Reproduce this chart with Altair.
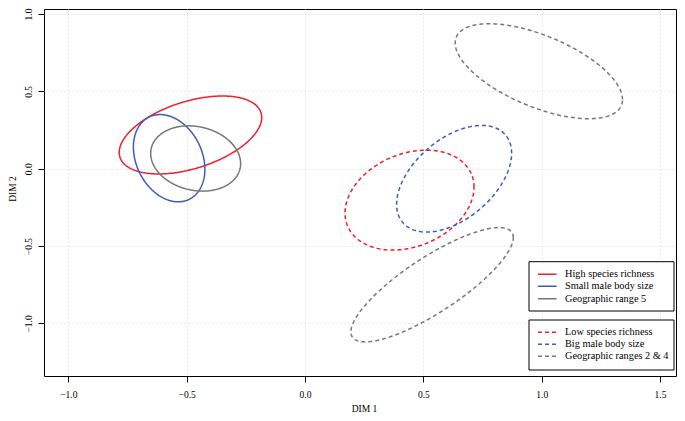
import numpy as np
import pandas as pd
import altair as alt

# Ellipse parameters: centre x, centre y, half-width (x), half-height (y), correlation
groups = ["High species richness", "Small male body size", "Geographic range 5",
          "Low species richness", "Big male body size", "Geographic range 2", "Geographic range 4"]
cat = ["richness", "body", "range", "richness", "body", "range", "range"]
style = ["solid", "solid", "solid", "dashed", "dashed", "dashed", "dashed"]
cx = [-0.484, -0.574, -0.462, 0.4415, 0.630, 0.988, 0.537]
cy = [0.218, 0.068, 0.066, -0.203, -0.065, 0.630, -0.750]
hw = [0.301, 0.151, 0.190, 0.2725, 0.243, 0.3535, 0.343]
hh = [0.252, 0.282, 0.211, 0.323, 0.3445, 0.307, 0.3695]
rho = [0.448, -0.253, -0.155, 0.259, 0.478, -0.595, 0.824]

x_ticks = [-1.0, -0.5, 0.0, 0.5, 1.0, 1.5]
y_ticks = [-1.0, -0.5, 0.0, 0.5, 1.0]

legend1 = ["High species richness", "Small male body size", "Geographic range 5"]
legend2 = ["Low species richness", "Big male body size", "Geographic ranges 2 & 4"]
legend_cat = ["richness", "body", "range"]

colors = {"richness": "#EE2029", "body": "#3F5BB8", "range": "#777777"}
SERIF = "Liberation Serif, Times New Roman, serif"

rows = []
t = np.linspace(0, 2 * np.pi, 241)
for k in range(len(groups)):
    xs = cx[k] + hw[k] * np.cos(t)
    ys = cy[k] + hh[k] * (rho[k] * np.cos(t) + np.sqrt(1 - rho[k] ** 2) * np.sin(t))
    for i, (a, b) in enumerate(zip(xs, ys)):
        rows.append({"id": groups[k], "cat": cat[k], "style": style[k], "i": i, "x": a, "y": b})
df = pd.DataFrame(rows)

W, H = 632, 367
xdom = [-1.1027, 1.5674]
ydom = [-1.340, 1.0323]

axis_common = dict(labelFont=SERIF, labelFontSize=9.5, labelColor="black",
                   titleFont=SERIF, titleFontSize=9.5, titleColor="black", titleFontWeight="normal",
                   tickColor="black", tickSize=6, domain=False,
                   grid=True, gridColor="#d4d4d4", gridDash=[1, 3], gridWidth=1, format=".1f")

ell = alt.Chart(df).mark_line(strokeWidth=1.5).encode(
    x=alt.X("x:Q", scale=alt.Scale(domain=xdom, nice=False, zero=False),
            axis=alt.Axis(values=x_ticks, title="DIM 1", labelPadding=7,
                          titleX=320, titleY=35, titleBaseline="alphabetic", titleAlign="center",
                          **axis_common)),
    y=alt.Y("y:Q", scale=alt.Scale(domain=ydom, nice=False, zero=False),
            axis=alt.Axis(values=y_ticks, title="DIM 2", labelAngle=270, labelAlign="center",
                          labelBaseline="bottom", labelPadding=4.5,
                          titleAngle=270, titleX=-29, titleY=179.5, titleAlign="center",
                          titleBaseline="alphabetic", **axis_common)),
    color=alt.Color("cat:N", scale=alt.Scale(domain=list(colors.keys()), range=list(colors.values())), legend=None),
    strokeDash=alt.StrokeDash("style:N", scale=alt.Scale(domain=["solid", "dashed"], range=[[1, 0], [4, 3]]), legend=None),
    detail="id:N",
    order="i:Q",
)

one = alt.Data(values=[{"a": 1}])
layers = [ell]
boxes = [(252.7, 302.0, legend1, [265.3, 277.3, 289.7], [1, 0]),
         (311.0, 361.0, legend2, [323.3, 335.3, 347.3], [4, 3])]
for (y0, y1, labels, ys, dash) in boxes:
    layers.append(alt.Chart(one).mark_rect(fill="white", stroke="black", strokeWidth=1).encode(
        x=alt.value(485.0), x2=alt.value(630.0), y=alt.value(y0), y2=alt.value(y1)))
    for lab, c, yy in zip(labels, legend_cat, ys):
        layers.append(alt.Chart(one).mark_rule(color=colors[c], strokeWidth=1.5, strokeDash=dash).encode(
            x=alt.value(494.0), x2=alt.value(512.6), y=alt.value(yy)))
        layers.append(alt.Chart(one).mark_text(font=SERIF, fontSize=10.3, color="black", align="left",
                                               baseline="middle").encode(
            x=alt.value(521.0), y=alt.value(yy), text=alt.value(lab)))

chart = alt.layer(*layers).properties(
    width=W, height=H,
    autosize=alt.AutoSizeParams(type="none"),
    padding={"left": 36, "top": 1, "right": 1, "bottom": 37},
    background="white",
).configure_view(stroke="black", strokeWidth=1)

chart.save("out.html", embed_options={"renderer": "svg", "actions": False})
